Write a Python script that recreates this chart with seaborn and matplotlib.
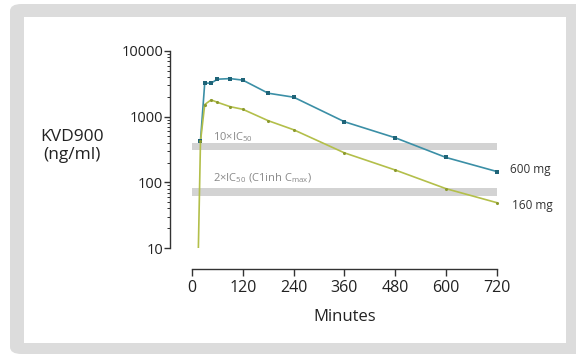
import numpy as np
import pandas as pd
import seaborn as sns
import matplotlib
matplotlib.use("Agg")
import matplotlib.pyplot as plt
from matplotlib.patches import FancyBboxPatch, Rectangle
from matplotlib.ticker import LogLocator, NullFormatter, FixedLocator

# ---- data ----
minutes_600 = [20, 30, 45, 60, 90, 120, 180, 240, 360, 480, 600, 720]
conc_600 = [430, 3240, 3240, 3720, 3800, 3600, 2275, 1980, 837, 477, 239, 146]
minutes_160 = [15, 20, 30, 45, 60, 90, 120, 180, 240, 360, 480, 600, 720]
conc_160 = [10, 420, 1530, 1800, 1655, 1420, 1295, 868, 632, 281, 154, 80, 49]
doses = ["600 mg", "160 mg"]
band_10x = (313, 395)
band_2x = (63, 81)
band_labels = ["10\u00d7IC$_{50}$", "2\u00d7IC$_{50}$ (C1inh C$_{\\mathrm{max}}$)"]
x_ticks = [0, 120, 240, 360, 480, 600, 720]
y_ticks = [10, 100, 1000, 10000]
y_ticklabels = ["10", "100", "1000", "10000"]

df = pd.concat([
    pd.DataFrame({"Minutes": minutes_600, "conc": conc_600, "dose": doses[0]}),
    pd.DataFrame({"Minutes": minutes_160, "conc": conc_160, "dose": doses[1]}),
], ignore_index=True)

sns.set_theme(style="ticks")
plt.rcParams["font.family"] = ["Open Sans", "DejaVu Sans"]
plt.rcParams["mathtext.fontset"] = "custom"
plt.rcParams["mathtext.rm"] = "Open Sans"

W, H = 576, 354
fig = plt.figure(figsize=(W / 100, H / 100), dpi=100)
fig.patch.set_facecolor("white")

def fx(px):
    return px / W

def fy(py):
    return 1 - py / H

# background frame
fig.patches.append(FancyBboxPatch((fx(10), fy(354)), fx(576) - fx(10) + 0.05, fy(4) - fy(354),
                                  boxstyle="round,pad=0,rounding_size=0.02",
                                  transform=fig.transFigure, facecolor="#dcdcdc",
                                  edgecolor="none", zorder=-10))
fig.patches.append(Rectangle((fx(24), fy(343)), fx(566) - fx(24), fy(17) - fy(343),
                             transform=fig.transFigure, facecolor="white",
                             edgecolor="none", zorder=-9))

ax_left, ax_right = 170, 499
ax_top, ax_bottom = 51, 248
ax = fig.add_axes([fx(ax_left), fy(ax_bottom), fx(ax_right) - fx(ax_left), fy(ax_top) - fy(ax_bottom)])
ax.set_facecolor("none")

line_colors = {"600 mg": "#3b8fa6", "160 mg": "#b3bf4a"}
marker_colors = {"600 mg": "#1f6478", "160 mg": "#8c9a2e"}

# bands
for lo, hi in [band_10x, band_2x]:
    ax.fill_between([0, 720], lo, hi, color="#d3d3d3", linewidth=0, zorder=1)

sns.lineplot(data=df, x="Minutes", y="conc", hue="dose", palette=line_colors,
             linewidth=1.2, legend=False, ax=ax, zorder=3, sort=False)
sns.scatterplot(data=df[(df.dose == "600 mg")], x="Minutes", y="conc", color=marker_colors["600 mg"],
                marker="s", s=9, linewidth=0, legend=False, ax=ax, zorder=4)
sns.scatterplot(data=df[(df.dose == "160 mg") & (df.conc > 10)], x="Minutes", y="conc",
                color=marker_colors["160 mg"], marker="o", s=5, linewidth=0, legend=False, ax=ax, zorder=4)

ax.set_yscale("log")
ax.set_ylim(10, 10000)
ax.set_xlim(-52, 725)

ax.yaxis.set_major_locator(FixedLocator(y_ticks))
ax.set_yticklabels(y_ticklabels)
ax.yaxis.set_minor_locator(LogLocator(base=10, subs=np.arange(2, 10), numticks=20))
ax.yaxis.set_minor_formatter(NullFormatter())
ax.set_xticks(x_ticks)
ax.set_xticklabels([str(t) for t in x_ticks])

for s in ["top", "right"]:
    ax.spines[s].set_visible(False)
ax.spines["left"].set_linewidth(1.0)
ax.spines["bottom"].set_linewidth(1.0)
ax.spines["left"].set_color("#333333")
ax.spines["bottom"].set_color("#333333")
ax.spines["bottom"].set_position(("outward", 21 * 0.72))
ax.spines["bottom"].set_bounds(0, 720)
ax.spines["left"].set_bounds(10, 10000)

ax.tick_params(axis="y", which="major", length=4, width=1.0, color="#333333", labelsize=10.5,
               labelcolor="#222222", pad=1)
ax.tick_params(axis="y", which="minor", length=2, width=0.7, color="#333333")
ax.tick_params(axis="x", which="major", length=5, width=1.0, color="#333333", labelsize=11.5,
               labelcolor="#222222", pad=3)

ax.set_xlabel("")
ax.set_ylabel("")

# band labels
ax.text(50, 490, band_labels[0], fontsize=8, color="#888888", va="center", ha="left")
ax.text(50, 116, band_labels[1], fontsize=8, color="#888888", va="center", ha="left")

# series labels
fig.text(fx(510), fy(170), doses[0], fontsize=8.5, color="#333333", va="center", ha="left")
fig.text(fx(512), fy(206), doses[1], fontsize=8.5, color="#333333", va="center", ha="left")

# axis titles
fig.text(fx(72), fy(146), "KVD900\n(ng/ml)", fontsize=12.5, color="#222222", ha="center",
         va="center", linespacing=1.2)
fig.text(fx(345), fy(317), "Minutes", fontsize=12, color="#222222", ha="center", va="center")

fig.savefig("out.png", dpi=100)
